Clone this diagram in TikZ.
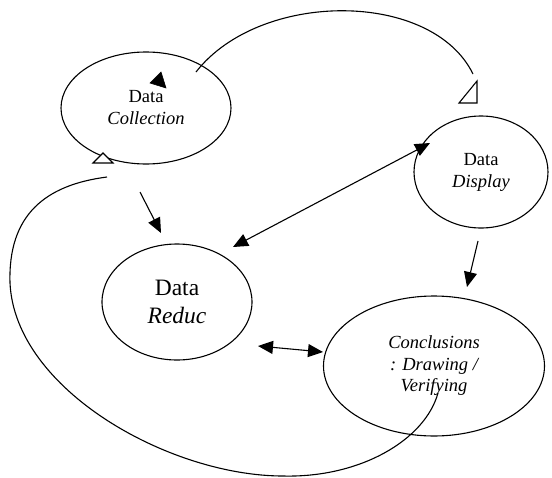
\documentclass[tikz,border=0pt]{standalone}
\usepackage{fontspec}
\setmainfont{Liberation Serif}
\usetikzlibrary{shapes.geometric,arrows.meta}
\begin{document}
\begin{tikzpicture}[x=1pt,y=-1pt,line width=1.1pt,
    stage/.style={draw,ellipse,inner sep=0pt,align=center,font=\fontsize{18.5}{22}\selectfont},
    flow/.style={-{Triangle[length=15pt,width=13pt]}},
    twoway/.style={{Triangle[length=15pt,width=13pt]}-{Triangle[length=15pt,width=13pt]}}]
    \useasboundingbox (0,0) rectangle (552,477);

    % the four stages
    \node[stage,minimum width=170pt,minimum height=112pt] (coll) at (146,108) {Data\\\textit{Collection}};
    \node[stage,minimum width=134pt,minimum height=112pt] (disp) at (481,172) {Data\\\textit{Display}};
    \node[stage,minimum width=150pt,minimum height=116pt,font=\fontsize{23.5}{28}\selectfont] (red) at (177,302) {Data\\\textit{Reduc}};
    \node[stage,minimum width=221pt,minimum height=140pt,font=\fontsize{18.5}{21.5}\selectfont\itshape] (concl) at (434,366) {Conclusions\\: Drawing /\\Verifying};

    % free arrow ends
    \coordinate (c2r-a) at (140,192);  \coordinate (c2r-b) at (161,233);
    \coordinate (d2r-a) at (430,143);  \coordinate (d2r-b) at (233,247);
    \coordinate (d2c-a) at (478,241);  \coordinate (d2c-b) at (467,287);
    \coordinate (r2c-a) at (258,346);  \coordinate (r2c-b) at (323,352);
    \coordinate (arc-a) at (196,72);   \coordinate (arc-b) at (473,74);
    \coordinate (loop-a) at (438,393); \coordinate (loop-b) at (107,177);

    \draw[flow] (c2r-a) -- (c2r-b);
    \draw[twoway] (d2r-a) -- (d2r-b);
    \draw[flow] (d2c-a) -- (d2c-b);
    \draw[twoway] (r2c-a) -- (r2c-b);

    % arc over the top and the big loop
    \draw (arc-a) .. controls (260,-10) and (432,-10) .. (arc-b);
    \draw (loop-a) .. controls (425,440) and (360,478) .. (283,476)
        .. controls (170,476) and (15,390) .. (10,283)
        .. controls (8,215) and (45,185) .. (loop-b);

    % stray heads
    \filldraw[line width=0.6pt] (161,72) -- (150,83) -- (166,88) -- cycle;
    \draw[fill=white] (459,103) -- (477,103) -- (477,81) -- cycle;
    \draw[fill=white] (93,163) -- (113,163) -- (103,153) -- cycle;
\end{tikzpicture}
\end{document}
